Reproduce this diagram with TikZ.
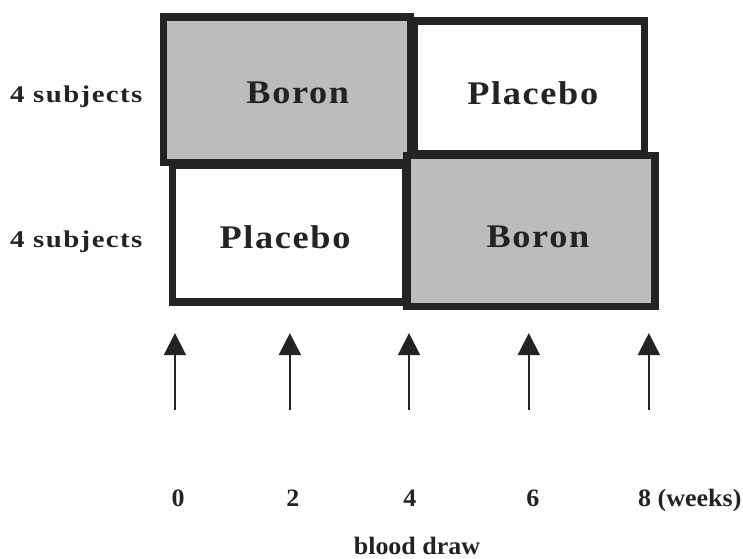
\documentclass[tikz,border=0pt]{standalone}
\usepackage{fontspec}
\setmainfont{Liberation Serif}
\newfontfamily\boxfont[FakeStretch=1.1, LetterSpace=5]{Liberation Serif}
\newfontfamily\rowfont[FakeStretch=1.2, LetterSpace=6]{Liberation Serif}
\newfontfamily\weekfont[FakeStretch=1.04]{Liberation Serif}
\usetikzlibrary{arrows.meta}
\definecolor{boxgray}{RGB}{188,188,188}
\definecolor{inkdark}{RGB}{35,35,35}
\tikzset{
    boronbox/.style={draw=inkdark, line width=7.5pt, fill=boxgray},
    placebobox/.style={draw=inkdark, line width=7.5pt, fill=white},
    boxtext/.style={inner sep=0pt, text=inkdark, font={\boxfont\bfseries\fontsize{33}{39}\selectfont}},
    rowtext/.style={inner sep=0pt, anchor=west, text=inkdark, font={\rowfont\bfseries\fontsize{24}{28}\selectfont}},
    weektext/.style={inner sep=0pt, anchor=base, text=inkdark, font={\weekfont\bfseries\fontsize{25}{30}\selectfont}},
    drawarrow/.style={draw=inkdark, line width=2pt, -{Triangle[length=22pt, width=22pt]}}
}
\begin{document}
\begin{tikzpicture}
    \useasboundingbox (0, 0) rectangle (26.12, 19.65);

    % 方框
    \draw[placebobox] (14.58, 14.24) rectangle (22.66, 18.92);
    \draw[placebobox] (6.07, 9.04) rectangle (14.27, 13.85);
    \draw[boronbox] (5.75, 13.94) rectangle (14.43, 19.05);
    \draw[boronbox] (14.31, 8.87) rectangle (23.02, 14.18);

    % 方框文字
    \node[boxtext] (boron1) at (10.47, 16.38) {Boron};
    \node[boxtext] (placebo1) at (18.73, 16.38) {Placebo};
    \node[boxtext] (placebo2) at (10.02, 11.32) {Placebo};
    \node[boxtext] (boron2) at (18.91, 11.32) {Boron};

    % 左侧分组
    \node[rowtext] (group1) at (0.35, 16.24) {4 subjects};
    \node[rowtext] (group2) at (0.35, 11.14) {4 subjects};

    % 采血箭头
    \foreach \x [count=\i] in {6.15, 10.19, 14.38, 18.59, 22.81} {
        \coordinate (foot\i) at (\x, 5.24);
        \coordinate (tip\i) at (\x, 7.94);
        \draw[drawarrow] (foot\i) -- (tip\i);
    }

    % 周数
    \node[weektext] (week0) at (6.26, 1.83) {0};
    \node[weektext] (week2) at (10.30, 1.83) {2};
    \node[weektext] (week4) at (14.41, 1.83) {4};
    \node[weektext] (week6) at (18.73, 1.83) {6};
    \node[weektext, anchor=base west] (week8) at (22.43, 1.83) {8 (weeks)};
    \node[weektext] (blood) at (14.66, 0.14) {blood draw};
\end{tikzpicture}
\end{document}
